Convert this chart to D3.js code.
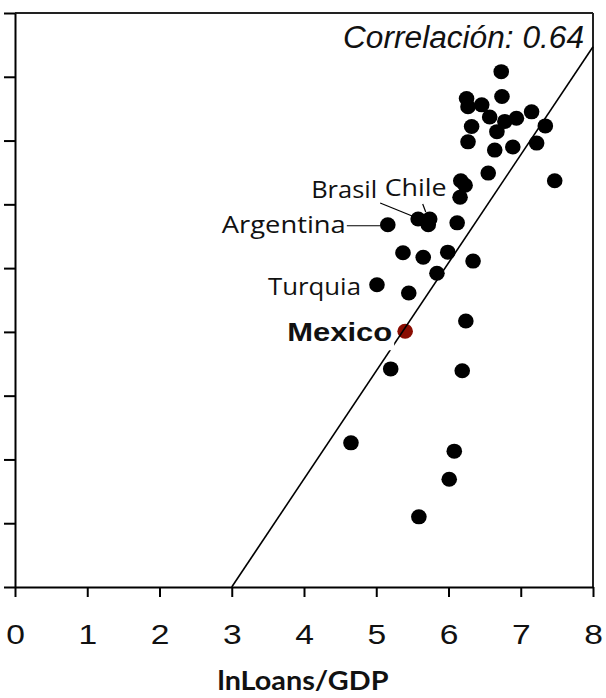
<!DOCTYPE html>
<html>
<head>
<meta charset="utf-8">
<script src="https://cdn.jsdelivr.net/npm/d3@7"></script>
<style>
  body { margin: 0; background: #fff; }
  svg { display: block; }
</style>
</head>
<body>
<svg id="chart" width="606" height="698"></svg>
<script>
// ln(Loans/GDP) per country
const loansGdp = [
  6.73, 6.25, 6.27, 6.46, 6.74, 6.57, 6.78, 6.94, 7.15, 7.34,
  6.32, 6.67, 6.27, 6.64, 6.89, 7.22, 6.55, 7.47, 6.17, 6.23,
  6.16, 5.58, 5.74, 5.72, 6.12, 5.16, 5.37, 5.65, 5.99, 6.34,
  5.84, 5.01, 5.45, 5.40, 6.24, 5.20, 6.19, 4.65, 6.08, 6.01,
  5.59
];
// vertical-axis values (same order)
const outcome = [
  8.08, 7.66, 7.53, 7.56, 7.69, 7.37, 7.30, 7.35, 7.45, 7.23,
  7.22, 7.14, 6.98, 6.85, 6.90, 6.96, 6.49, 6.37, 6.37, 6.30,
  6.11, 5.77, 5.77, 5.68, 5.71, 5.68, 5.24, 5.17, 5.25, 5.11,
  4.92, 4.74, 4.61, 4.01, 4.17, 3.42, 3.39, 2.26, 2.13, 1.69,
  1.10
];
// country names, blank where the point is not labelled
const country = [
  "", "", "", "", "", "", "", "", "", "",
  "", "", "", "", "", "", "", "", "", "",
  "", "Brasil", "Chile", "", "", "Argentina", "", "", "", "",
  "", "Turquia", "", "Mexico", "", "", "", "", "", "",
  ""
];
const highlighted = "Mexico";
const xTicks = [0, 1, 2, 3, 4, 5, 6, 7, 8];
const yTicks = [0, 1, 2, 3, 4, 5, 6, 7, 8, 9];
const trendX = [3, 8];
const trendY = [0, 8.47];
const correlation = 0.64;
const xTitle = "lnLoans/GDP";

const svg = d3.select("#chart");
const x = d3.scaleLinear().domain([0, 8]).range([15, 593]);
const y = d3.scaleLinear().domain([0, 9]).range([587, 13]);

// frame: top and right edges
svg.append("line").attr("x1", 15).attr("x2", 593).attr("y1", y(9)).attr("y2", y(9))
  .attr("stroke", "#222").attr("stroke-width", 2);
svg.append("line").attr("x1", 593).attr("x2", 593).attr("y1", y(9)).attr("y2", y(0))
  .attr("stroke", "#222").attr("stroke-width", 2);

// left axis: ticks only, no labels
const yAxis = svg.append("g").attr("transform", `translate(${x(0)},0)`)
  .call(d3.axisLeft(y).tickValues(yTicks).tickSize(11).tickSizeOuter(0).tickFormat(""));
yAxis.selectAll("path, line").attr("stroke", "#000").attr("stroke-width", 2);

// bottom axis
const xAxis = svg.append("g").attr("transform", `translate(0,${y(0)})`)
  .call(d3.axisBottom(x).tickValues(xTicks).tickSize(10).tickSizeOuter(0).tickPadding(27).tickFormat(d3.format("d")));
xAxis.selectAll("path, line").attr("stroke", "#000").attr("stroke-width", 2);
xAxis.selectAll("text")
  .attr("font-family", "Liberation Sans, Arial, sans-serif")
  .attr("font-size", 28).attr("fill", "#111")
  .attr("transform", "scale(1.2,1)");

// axis title
svg.append("text").attr("x", 303).attr("y", 690)
  .attr("text-anchor", "middle")
  .attr("font-family", "Lato, Open Sans, sans-serif").attr("font-weight", "bold")
  .attr("font-size", 26).attr("fill", "#111")
  .attr("textLength", 171).attr("lengthAdjust", "spacingAndGlyphs")
  .text(xTitle);

// points
const pts = loansGdp.map((v, i) => ({ x: v, y: outcome[i], name: country[i] }));
svg.append("g").selectAll("ellipse").data(pts).join("ellipse")
  .attr("cx", d => x(d.x)).attr("cy", d => y(d.y))
  .attr("rx", 7.8).attr("ry", 7.5)
  .attr("fill", d => d.name === highlighted ? "#8a0d02" : "#000");

// regression line
svg.append("line")
  .attr("x1", x(trendX[0])).attr("y1", y(trendY[0]))
  .attr("x2", x(trendX[1])).attr("y2", y(trendY[1]))
  .attr("stroke", "#000").attr("stroke-width", 1.6);

// correlation note
svg.append("text").attr("x", 343).attr("y", 48)
  .attr("font-family", "Liberation Sans, Arial, sans-serif").attr("font-style", "italic")
  .attr("font-size", 31).attr("fill", "#111")
  .attr("textLength", 241).attr("lengthAdjust", "spacingAndGlyphs")
  .text(`Correlación: ${correlation.toFixed(2)}`);

// country annotations: text start/baseline offsets and width, optional leader line
const annot = {
  "Argentina": { dx: -166, dy: 8, w: 124, bold: false, leader: [-41, 1, -7, 1] },
  "Brasil":    { dx: -107, dy: -21, w: 66, bold: false, leader: [-38, -16, -6, -3] },
  "Chile":     { dx: -45, dy: -23, w: 62, bold: false, leader: [-7, -15, -4, -7] },
  "Turquia":   { dx: -109, dy: 10, w: 93, bold: false },
  "Mexico":    { dx: -118, dy: 10, w: 105, bold: true }
};
const labelled = pts.filter(d => d.name);
const ag = svg.append("g");
labelled.forEach(d => {
  const a = annot[d.name];
  const px = x(d.x), py = y(d.y);
  if (a.leader) {
    ag.append("line")
      .attr("x1", px + a.leader[0]).attr("y1", py + a.leader[1])
      .attr("x2", px + a.leader[2]).attr("y2", py + a.leader[3])
      .attr("stroke", "#000").attr("stroke-width", 1.2);
  }
  const t = ag.append("text")
    .attr("x", px + a.dx).attr("y", py + a.dy)
    .attr("font-family", a.bold ? "Liberation Sans, Arial, sans-serif" : "Open Sans, sans-serif")
    .attr("font-weight", a.bold ? "bold" : "normal")
    .attr("font-size", a.bold ? 25 : 24).attr("fill", "#111")
    .attr("textLength", a.w).attr("lengthAdjust", "spacingAndGlyphs")
    .text(d.name);
  if (a.bold) {
    const bb = t.node().getBBox();
    ag.insert("rect", () => t.node())
      .attr("x", bb.x - 2).attr("y", bb.y + 2).attr("width", bb.width + 4).attr("height", bb.height + 2)
      .attr("fill", "#fff");
  }
});
</script>
</body>
</html>
